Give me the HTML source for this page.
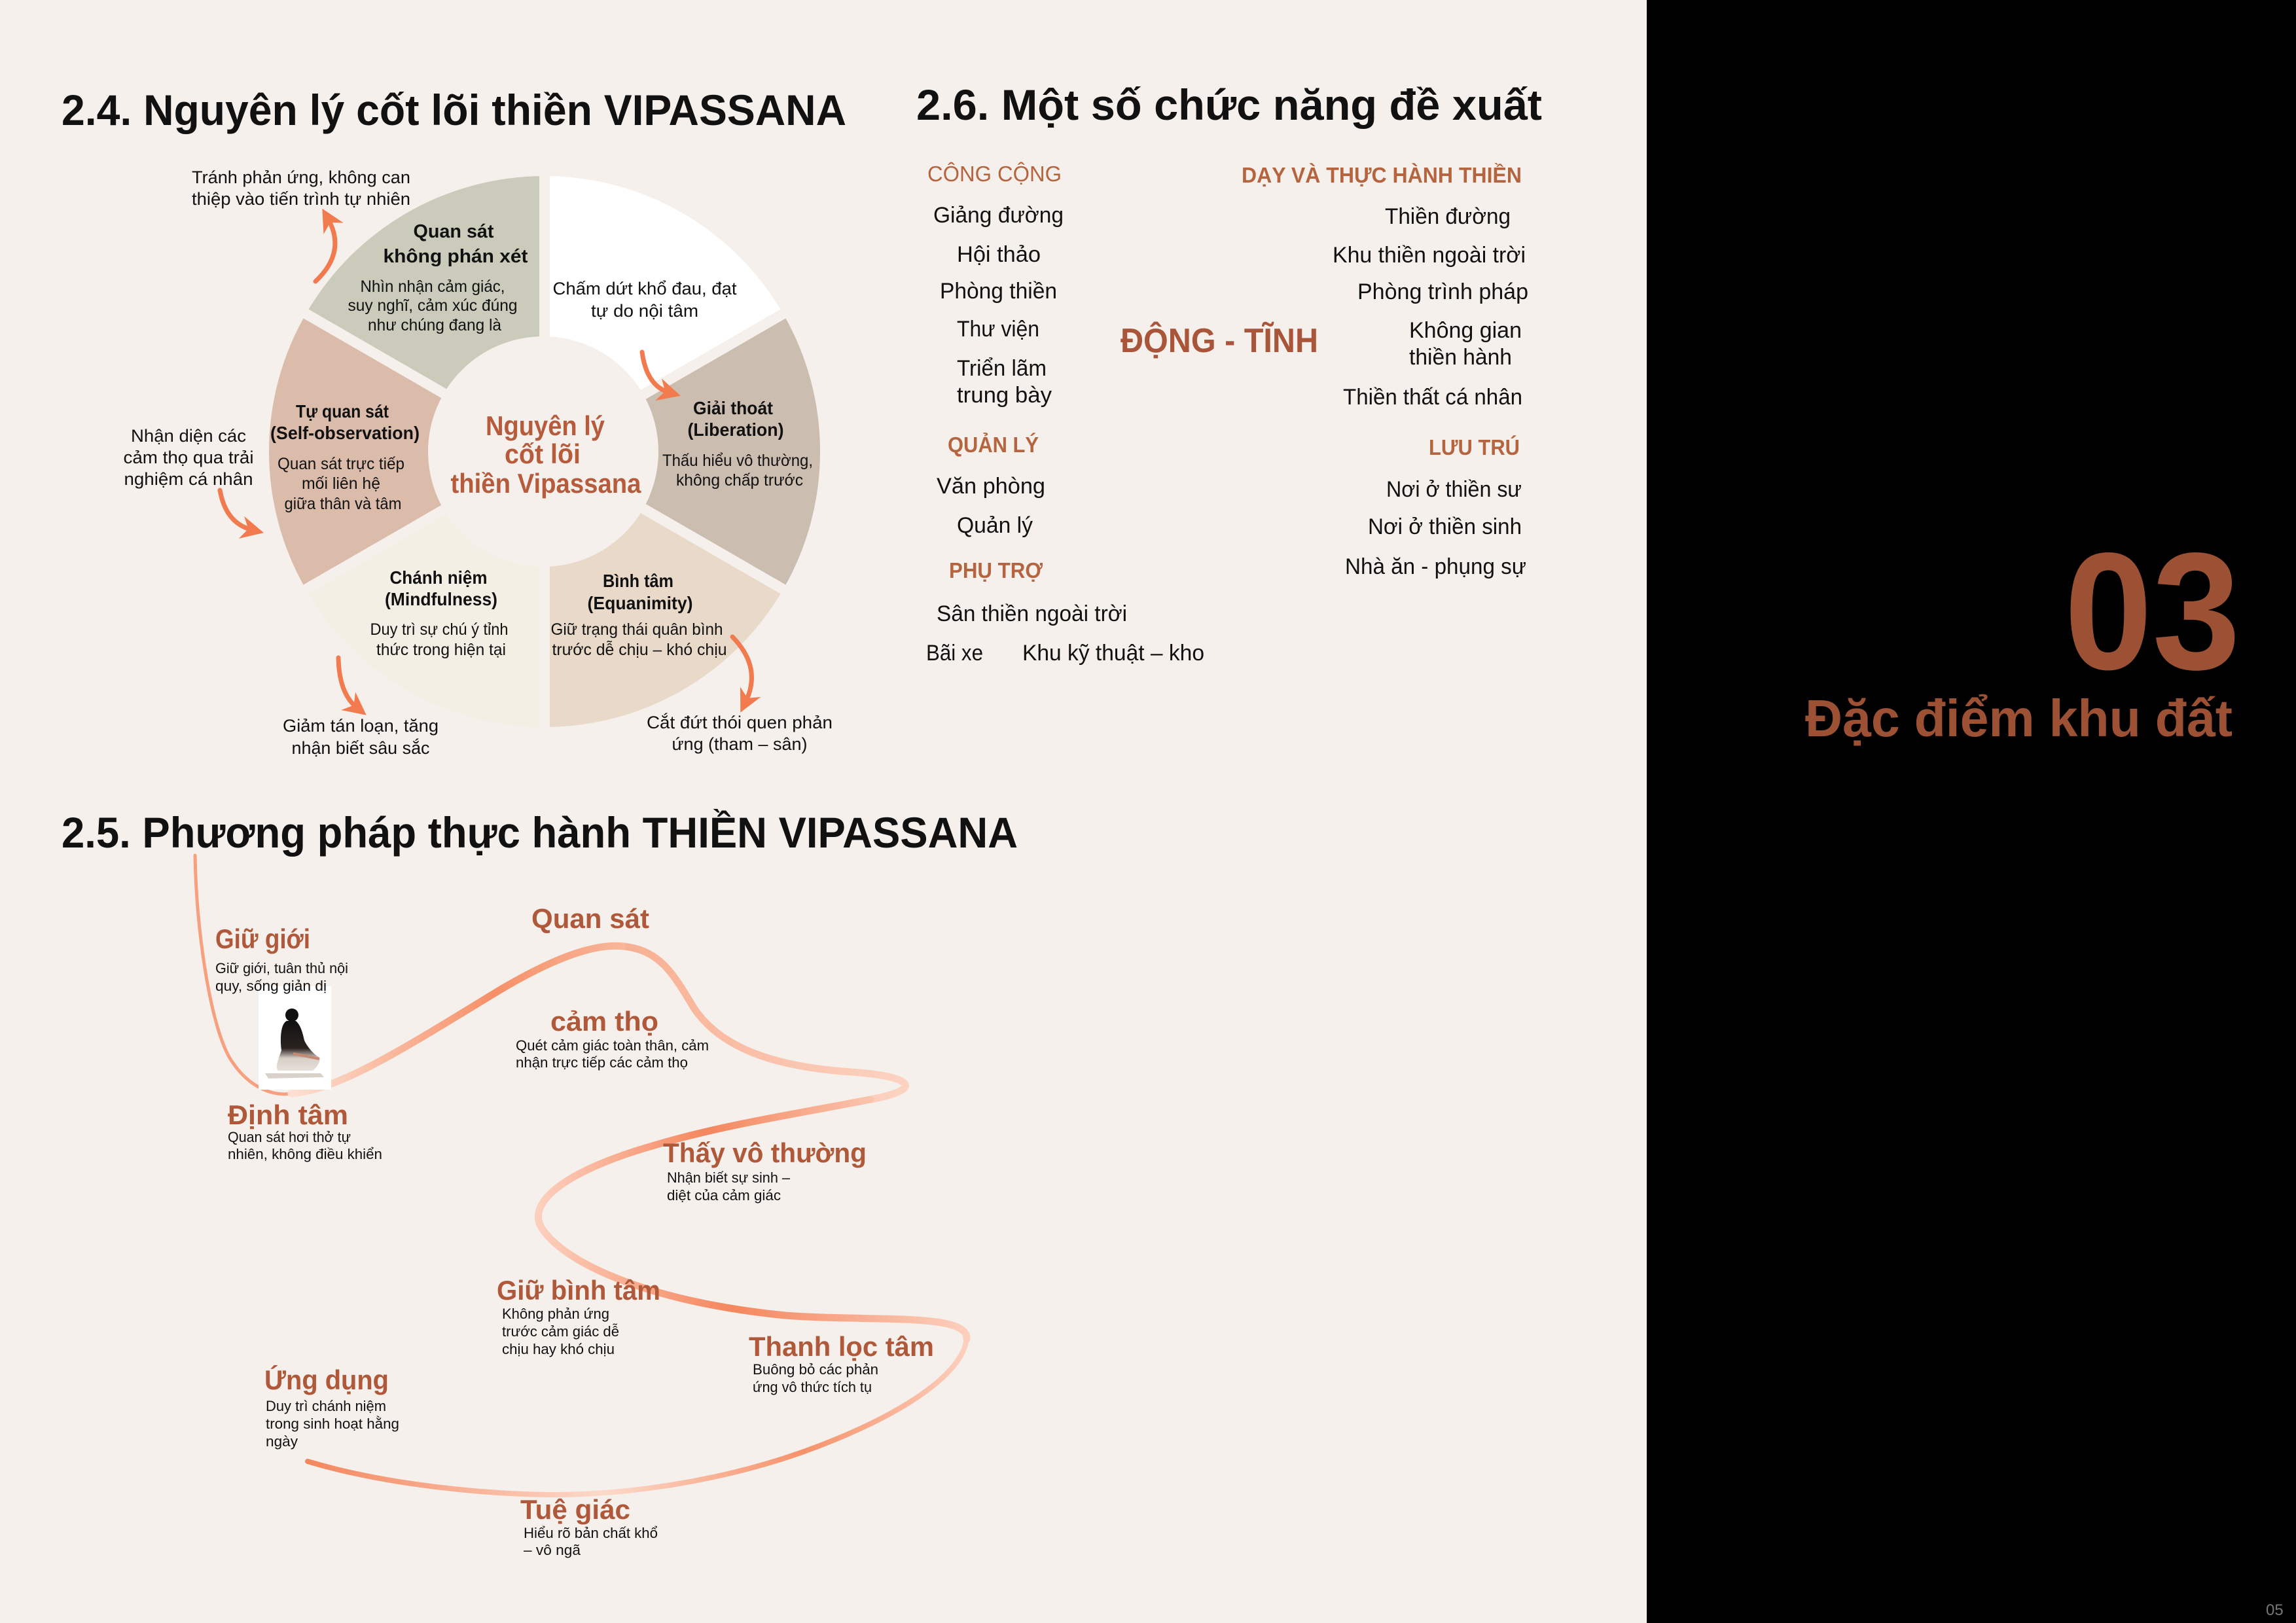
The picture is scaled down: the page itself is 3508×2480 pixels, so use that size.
<!DOCTYPE html>
<html><head><meta charset="utf-8"><style>
html,body{margin:0;padding:0;background:#f5f0eb;}
svg{display:block;}
text{font-family:"Liberation Sans",sans-serif;}
.b{font-weight:bold;}
</style></head><body>
<svg width="3508" height="2480" viewBox="0 0 3508 2480" xmlns="http://www.w3.org/2000/svg">
<defs>
<marker id="ah" viewBox="0 0 10 10" refX="5" refY="5" markerWidth="5" markerHeight="5" orient="auto" markerUnits="strokeWidth">
<path d="M0,0 L10,5 L0,10 L3,5 Z" fill="#f27a4f"/>
</marker>
<linearGradient id="gB" gradientUnits="userSpaceOnUse" x1="445" y1="0" x2="960" y2="0"><stop offset="0" stop-color="#fde0d2"/><stop offset="0.6" stop-color="#f59068"/><stop offset="1" stop-color="#f8b89c"/></linearGradient>
<linearGradient id="gC" gradientUnits="userSpaceOnUse" x1="960" y1="0" x2="1400" y2="0"><stop offset="0" stop-color="#f8b093"/><stop offset="1" stop-color="#fcd4c3"/></linearGradient>
<linearGradient id="gD" gradientUnits="userSpaceOnUse" x1="1400" y1="0" x2="820" y2="0"><stop offset="0" stop-color="#fcd4c3"/><stop offset="0.55" stop-color="#f4875e"/><stop offset="1" stop-color="#fcd0be"/></linearGradient>
<linearGradient id="gE" gradientUnits="userSpaceOnUse" x1="820" y1="0" x2="1480" y2="0"><stop offset="0" stop-color="#fcd0be"/><stop offset="0.45" stop-color="#f4875e"/><stop offset="1" stop-color="#fcd0be"/></linearGradient>
<linearGradient id="gF" gradientUnits="userSpaceOnUse" x1="1480" y1="0" x2="470" y2="0"><stop offset="0" stop-color="#fcd0be"/><stop offset="0.25" stop-color="#f5926b"/><stop offset="0.55" stop-color="#fcd9ca"/><stop offset="1" stop-color="#f4875e"/></linearGradient>
<linearGradient id="fig" x1="0" y1="0" x2="0" y2="1"><stop offset="0" stop-color="#111"/><stop offset="0.55" stop-color="#2a2320"/><stop offset="0.75" stop-color="#d8cfc6"/><stop offset="1" stop-color="#e6e0da"/></linearGradient>
</defs>
<rect width="3508" height="2480" fill="#f5f0eb"/>
<rect x="2516" y="0" width="992" height="2480" fill="#000"/>

<!-- Titles -->
<text x="94" y="191" font-size="66" class="b" fill="#111" textLength="1199" lengthAdjust="spacingAndGlyphs">2.4. Nguyên lý cốt lõi thiền VIPASSANA</text>
<text x="1400" y="183" font-size="66" class="b" fill="#111" textLength="956" lengthAdjust="spacingAndGlyphs">2.6. Một số chức năng đề xuất</text>
<text x="94" y="1295" font-size="66" class="b" fill="#111" textLength="1461" lengthAdjust="spacingAndGlyphs">2.5. Phương pháp thực hành THIỀN VIPASSANA</text>

<!-- Wheel -->
<g>
<path d="M832,690 L832,269 A421,421 0 0 1 1196.6,479.5 Z" fill="#ffffff"/>
<path d="M832,690 L1196.6,479.5 A421,421 0 0 1 1196.6,900.5 Z" fill="#cbbdb0"/>
<path d="M832,690 L1196.6,900.5 A421,421 0 0 1 832,1111 Z" fill="#e8d9c9"/>
<path d="M832,690 L832,1111 A421,421 0 0 1 467.4,900.5 Z" fill="#f4efe4"/>
<path d="M832,690 L467.4,900.5 A421,421 0 0 1 467.4,479.5 Z" fill="#dbbcab"/>
<path d="M832,690 L467.4,479.5 A421,421 0 0 1 832,269 Z" fill="#cacbbb"/>
<g stroke="#f5f0eb" stroke-width="16">
<line x1="832" y1="690" x2="832" y2="250"/>
<line x1="832" y1="690" x2="1213" y2="470"/>
<line x1="832" y1="690" x2="1213" y2="910"/>
<line x1="832" y1="690" x2="832" y2="1130"/>
<line x1="832" y1="690" x2="451" y2="910"/>
<line x1="832" y1="690" x2="451" y2="470"/>
</g>
<circle cx="830" cy="690" r="176" fill="#f5f0eb"/>
</g>

<g font-size="27" fill="#111" text-anchor="middle">
<text x="460" y="280" textLength="334" lengthAdjust="spacingAndGlyphs">Tránh phản ứng, không can</text>
<text x="460" y="313" textLength="334" lengthAdjust="spacingAndGlyphs">thiệp vào tiến trình tự nhiên</text>
<text x="693" y="363" class="b" font-size="29" textLength="123" lengthAdjust="spacingAndGlyphs">Quan sát</text>
<text x="696" y="401" class="b" font-size="29" textLength="221" lengthAdjust="spacingAndGlyphs">không phán xét</text>
<text x="661" y="446" font-size="25" textLength="221" lengthAdjust="spacingAndGlyphs">Nhìn nhận cảm giác,</text>
<text x="661" y="475" font-size="25" textLength="259" lengthAdjust="spacingAndGlyphs">suy nghĩ, cảm xúc đúng</text>
<text x="664" y="505" font-size="25" textLength="204" lengthAdjust="spacingAndGlyphs">như chúng đang là</text>
<text x="985" y="450" textLength="281" lengthAdjust="spacingAndGlyphs">Chấm dứt khổ đau, đạt</text>
<text x="985" y="484" textLength="164" lengthAdjust="spacingAndGlyphs">tự do nội tâm</text>
<text x="1120" y="633" class="b" font-size="28" textLength="122" lengthAdjust="spacingAndGlyphs">Giải thoát</text>
<text x="1124" y="666" class="b" font-size="28" textLength="147" lengthAdjust="spacingAndGlyphs">(Liberation)</text>
<text x="1127" y="712" font-size="25" textLength="230" lengthAdjust="spacingAndGlyphs">Thấu hiểu vô thường,</text>
<text x="1130" y="742" font-size="25" textLength="194" lengthAdjust="spacingAndGlyphs">không chấp trước</text>
<text x="523" y="638" class="b" font-size="28" textLength="142" lengthAdjust="spacingAndGlyphs">Tự quan sát</text>
<text x="527" y="671" class="b" font-size="28" textLength="228" lengthAdjust="spacingAndGlyphs">(Self-observation)</text>
<text x="521" y="717" font-size="25" textLength="194" lengthAdjust="spacingAndGlyphs">Quan sát trực tiếp</text>
<text x="521" y="747" font-size="25" textLength="120" lengthAdjust="spacingAndGlyphs">mối liên hệ</text>
<text x="524" y="778" font-size="25" textLength="179" lengthAdjust="spacingAndGlyphs">giữa thân và tâm</text>
<text x="288" y="675" textLength="176" lengthAdjust="spacingAndGlyphs">Nhận diện các</text>
<text x="288" y="708" textLength="199" lengthAdjust="spacingAndGlyphs">cảm thọ qua trải</text>
<text x="288" y="741" textLength="197" lengthAdjust="spacingAndGlyphs">nghiệm cá nhân</text>
<text x="670" y="892" class="b" font-size="28" textLength="149" lengthAdjust="spacingAndGlyphs">Chánh niệm</text>
<text x="674" y="925" class="b" font-size="28" textLength="172" lengthAdjust="spacingAndGlyphs">(Mindfulness)</text>
<text x="671" y="970" font-size="25" textLength="211" lengthAdjust="spacingAndGlyphs">Duy trì sự chú ý tỉnh</text>
<text x="674" y="1001" font-size="25" textLength="198" lengthAdjust="spacingAndGlyphs">thức trong hiện tại</text>
<text x="975" y="897" class="b" font-size="28" textLength="108" lengthAdjust="spacingAndGlyphs">Bình tâm</text>
<text x="978" y="931" class="b" font-size="28" textLength="161" lengthAdjust="spacingAndGlyphs">(Equanimity)</text>
<text x="973" y="970" font-size="25" textLength="263" lengthAdjust="spacingAndGlyphs">Giữ trạng thái quân bình</text>
<text x="977" y="1001" font-size="25" textLength="267" lengthAdjust="spacingAndGlyphs">trước dễ chịu – khó chịu</text>
<text x="551" y="1118" textLength="238" lengthAdjust="spacingAndGlyphs">Giảm tán loạn, tăng</text>
<text x="551" y="1152" textLength="211" lengthAdjust="spacingAndGlyphs">nhận biết sâu sắc</text>
<text x="1130" y="1113" textLength="284" lengthAdjust="spacingAndGlyphs">Cắt đứt thói quen phản</text>
<text x="1130" y="1146" textLength="207" lengthAdjust="spacingAndGlyphs">ứng (tham – sân)</text>
</g>
<g font-size="42" class="b" fill="#b65c3d" text-anchor="middle">
<text x="833" y="665" textLength="182" lengthAdjust="spacingAndGlyphs">Nguyên lý</text>
<text x="829" y="708" textLength="116" lengthAdjust="spacingAndGlyphs">cốt lõi</text>
<text x="834" y="753" textLength="291" lengthAdjust="spacingAndGlyphs">thiền Vipassana</text>
</g>

<!-- Arrows -->
<g fill="none" stroke="#f27a4f" stroke-width="7" stroke-linecap="round" marker-end="url(#ah)">
<path d="M482,430 Q530,385 501,334"/>
<path d="M981,538 Q988,590 1023,600"/>
<path d="M336,749 Q345,800 386,810"/>
<path d="M517,1005 Q518,1060 546,1082"/>
<path d="M1119,973 Q1165,1020 1139,1073"/>
</g>

<!-- Section 2.6 -->
<g fill="#b4653f" font-size="33">
<text x="1417" y="277" textLength="205" lengthAdjust="spacingAndGlyphs">CÔNG CỘNG</text>
<text x="1448" y="691" class="b" textLength="139" lengthAdjust="spacingAndGlyphs">QUẢN LÝ</text>
<text x="1450" y="883" class="b" textLength="143" lengthAdjust="spacingAndGlyphs">PHỤ TRỢ</text>
<text x="1897" y="279" class="b" textLength="428" lengthAdjust="spacingAndGlyphs">DẠY VÀ THỰC HÀNH THIỀN</text>
<text x="2183" y="695" class="b" textLength="139" lengthAdjust="spacingAndGlyphs">LƯU TRÚ</text>
<text x="1712" y="538" class="b" font-size="52" fill="#a9553a" textLength="302" lengthAdjust="spacingAndGlyphs">ĐỘNG - TĨNH</text>
</g>
<g fill="#111" font-size="34">
<text x="1426" y="340" textLength="199" lengthAdjust="spacingAndGlyphs">Giảng đường</text>
<text x="1462" y="400" textLength="128" lengthAdjust="spacingAndGlyphs">Hội thảo</text>
<text x="1436" y="456" textLength="179" lengthAdjust="spacingAndGlyphs">Phòng thiền</text>
<text x="1462" y="514" textLength="126" lengthAdjust="spacingAndGlyphs">Thư viện</text>
<text x="1462" y="574" textLength="137" lengthAdjust="spacingAndGlyphs">Triển lãm</text>
<text x="1462" y="615" textLength="145" lengthAdjust="spacingAndGlyphs">trung bày</text>
<text x="1431" y="754" textLength="166" lengthAdjust="spacingAndGlyphs">Văn phòng</text>
<text x="1462" y="814" textLength="116" lengthAdjust="spacingAndGlyphs">Quản lý</text>
<text x="1431" y="949" textLength="291" lengthAdjust="spacingAndGlyphs">Sân thiền ngoài trời</text>
<text x="1415" y="1009" textLength="87" lengthAdjust="spacingAndGlyphs">Bãi xe</text>
<text x="1562" y="1009" textLength="278" lengthAdjust="spacingAndGlyphs">Khu kỹ thuật – kho</text>
<text x="2116" y="342" textLength="192" lengthAdjust="spacingAndGlyphs">Thiền đường</text>
<text x="2036" y="401" textLength="295" lengthAdjust="spacingAndGlyphs">Khu thiền ngoài trời</text>
<text x="2074" y="457" textLength="261" lengthAdjust="spacingAndGlyphs">Phòng trình pháp</text>
<text x="2153" y="516" textLength="172" lengthAdjust="spacingAndGlyphs">Không gian</text>
<text x="2153" y="557" textLength="157" lengthAdjust="spacingAndGlyphs">thiền hành</text>
<text x="2052" y="618" textLength="274" lengthAdjust="spacingAndGlyphs">Thiền thất cá nhân</text>
<text x="2118" y="759" textLength="207" lengthAdjust="spacingAndGlyphs">Nơi ở thiền sư</text>
<text x="2090" y="816" textLength="235" lengthAdjust="spacingAndGlyphs">Nơi ở thiền sinh</text>
<text x="2055" y="877" textLength="277" lengthAdjust="spacingAndGlyphs">Nhà ăn - phụng sự</text>
</g>

<!-- 03 -->
<text x="3154" y="1022" font-size="255" class="b" fill="#9c5034" textLength="269" lengthAdjust="spacingAndGlyphs">03</text>
<text x="2758" y="1125" font-size="80" class="b" fill="#9c5034" textLength="653" lengthAdjust="spacingAndGlyphs">Đặc điểm khu đất</text>
<text x="3462" y="2468" font-size="24" fill="#777">05</text>

<!-- Section 2.5 curve -->
<g fill="none" stroke-linecap="round">
<path d="M298,1307 C300,1420 320,1560 350,1615 C380,1665 420,1675 445,1671" stroke="#f7a07f" stroke-width="5"/>
<path d="M445,1671 C520,1665 620,1600 760,1515 C860,1455 920,1440 960,1447" stroke="url(#gB)" stroke-width="11"/>
<path d="M960,1447 C1010,1455 1030,1490 1060,1540 C1100,1600 1180,1630 1300,1638 C1400,1645 1410,1665 1330,1680" stroke="url(#gC)" stroke-width="11"/>
<path d="M1330,1680 C1200,1705 1100,1720 1000,1750 C860,1790 800,1840 830,1880" stroke="url(#gD)" stroke-width="11"/>
<path d="M830,1880 C870,1935 1000,1990 1200,2010 C1330,2020 1480,2005 1477,2046" stroke="url(#gE)" stroke-width="11"/>
<path d="M1477,2046 C1470,2100 1380,2160 1250,2210 C1120,2260 950,2290 800,2283 C680,2278 560,2260 470,2233" stroke="url(#gF)" stroke-width="8"/>
</g>

<!-- meditation figure -->
<rect x="395" y="1507" width="111" height="158" fill="#ffffff"/>
<g>
<circle cx="446" cy="1551" r="10" fill="#111"/>
<path d="M438,1560 C428,1565 428,1590 430,1605 C425,1620 420,1630 425,1636 L478,1636 C485,1630 490,1622 488,1616 C478,1610 470,1600 465,1590 C462,1575 458,1565 452,1560 Z" fill="url(#fig)"/>
<path d="M405,1640 L490,1640 L495,1646 L410,1648 Z" fill="#d9d2ca"/>
<path d="M448,1610 L488,1618" stroke="#c48a72" stroke-width="4"/>
</g>

<g fill="#b0583a" class="b" font-size="42">
<text x="329" y="1449" textLength="145" lengthAdjust="spacingAndGlyphs">Giữ giới</text>
<text x="348" y="1718" textLength="184" lengthAdjust="spacingAndGlyphs">Định tâm</text>
<text x="812" y="1418" textLength="180" lengthAdjust="spacingAndGlyphs">Quan sát</text>
<text x="841" y="1575" textLength="165" lengthAdjust="spacingAndGlyphs">cảm thọ</text>
<text x="1013" y="1776" textLength="311" lengthAdjust="spacingAndGlyphs">Thấy vô thường</text>
<text x="759" y="1986" textLength="250" lengthAdjust="spacingAndGlyphs">Giữ bình tâm</text>
<text x="1144" y="2072" textLength="283" lengthAdjust="spacingAndGlyphs">Thanh lọc tâm</text>
<text x="404" y="2123" textLength="190" lengthAdjust="spacingAndGlyphs">Ứng dụng</text>
<text x="795" y="2321" textLength="168" lengthAdjust="spacingAndGlyphs">Tuệ giác</text>
</g>
<g fill="#111" font-size="22">
<text x="329" y="1487" textLength="203" lengthAdjust="spacingAndGlyphs">Giữ giới, tuân thủ nội</text>
<text x="329" y="1514" textLength="170" lengthAdjust="spacingAndGlyphs">quy, sống giản dị</text>
<text x="348" y="1745" textLength="188" lengthAdjust="spacingAndGlyphs">Quan sát hơi thở tự</text>
<text x="348" y="1771" textLength="236" lengthAdjust="spacingAndGlyphs">nhiên, không điều khiển</text>
<text x="788" y="1605" textLength="295" lengthAdjust="spacingAndGlyphs">Quét cảm giác toàn thân, cảm</text>
<text x="788" y="1631" textLength="263" lengthAdjust="spacingAndGlyphs">nhận trực tiếp các cảm thọ</text>
<text x="1019" y="1807" textLength="188" lengthAdjust="spacingAndGlyphs">Nhận biết sự sinh –</text>
<text x="1019" y="1834" textLength="174" lengthAdjust="spacingAndGlyphs">diệt của cảm giác</text>
<text x="767" y="2015" textLength="164" lengthAdjust="spacingAndGlyphs">Không phản ứng</text>
<text x="767" y="2042" textLength="179" lengthAdjust="spacingAndGlyphs">trước cảm giác dễ</text>
<text x="767" y="2069" textLength="172" lengthAdjust="spacingAndGlyphs">chịu hay khó chịu</text>
<text x="1150" y="2100" textLength="192" lengthAdjust="spacingAndGlyphs">Buông bỏ các phản</text>
<text x="1150" y="2127" textLength="182" lengthAdjust="spacingAndGlyphs">ứng vô thức tích tụ</text>
<text x="406" y="2156" textLength="184" lengthAdjust="spacingAndGlyphs">Duy trì chánh niệm</text>
<text x="406" y="2183" textLength="204" lengthAdjust="spacingAndGlyphs">trong sinh hoạt hằng</text>
<text x="406" y="2210" textLength="49" lengthAdjust="spacingAndGlyphs">ngày</text>
<text x="800" y="2350" textLength="205" lengthAdjust="spacingAndGlyphs">Hiểu rõ bản chất khổ</text>
<text x="800" y="2376" textLength="87" lengthAdjust="spacingAndGlyphs">– vô ngã</text>
</g>
</svg>
</body></html>
